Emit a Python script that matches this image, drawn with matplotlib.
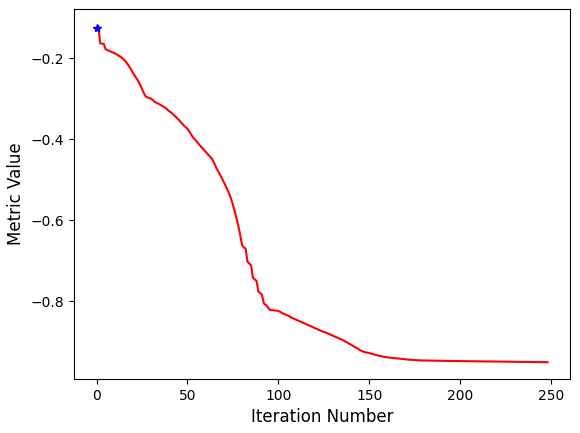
import numpy as np
import matplotlib
matplotlib.use("Agg")
import matplotlib.pyplot as plt

# metric value at each iteration
metric_values = [
    -0.126, -0.120, -0.163, -0.164, -0.165, -0.178, -0.180, -0.182, -0.184, -0.186,
    -0.188, -0.190, -0.193, -0.196, -0.199, -0.203, -0.208, -0.214, -0.221, -0.228,
    -0.236, -0.243, -0.250, -0.257, -0.266, -0.276, -0.286, -0.294, -0.297, -0.298,
    -0.300, -0.303, -0.308, -0.310, -0.312, -0.315, -0.317, -0.320, -0.323, -0.327,
    -0.331, -0.334, -0.338, -0.342, -0.347, -0.351, -0.356, -0.361, -0.366, -0.370,
    -0.374, -0.381, -0.388, -0.395, -0.400, -0.405, -0.411, -0.416, -0.421, -0.426,
    -0.431, -0.436, -0.441, -0.446, -0.452, -0.462, -0.472, -0.480, -0.488, -0.497,
    -0.506, -0.515, -0.525, -0.535, -0.547, -0.562, -0.578, -0.596, -0.614, -0.636,
    -0.661, -0.667, -0.670, -0.702, -0.707, -0.711, -0.742, -0.746, -0.750, -0.776,
    -0.780, -0.784, -0.805, -0.809, -0.813, -0.820, -0.822, -0.822, -0.823, -0.823,
    -0.824, -0.826, -0.829, -0.831, -0.833, -0.835, -0.837, -0.840, -0.842, -0.844,
    -0.846, -0.848, -0.850, -0.852, -0.854, -0.856, -0.858, -0.860, -0.862, -0.864,
    -0.866, -0.868, -0.870, -0.872, -0.874, -0.876, -0.877, -0.879, -0.881, -0.883,
    -0.885, -0.887, -0.889, -0.891, -0.893, -0.895, -0.897, -0.900, -0.902, -0.905,
    -0.907, -0.910, -0.913, -0.915, -0.918, -0.921, -0.923, -0.925, -0.926, -0.927,
    -0.928, -0.929, -0.930, -0.932, -0.933, -0.934, -0.935, -0.936, -0.937, -0.938,
    -0.9385, -0.939, -0.9395, -0.940, -0.9405, -0.941, -0.9415, -0.942, -0.9425, -0.943,
    -0.9435, -0.944, -0.9443, -0.9446, -0.9449, -0.9452, -0.9455, -0.9458, -0.9460, -0.9461,
    -0.9462, -0.9463, -0.9464, -0.9465, -0.9466, -0.9467, -0.9468, -0.9468, -0.9469, -0.9470,
    -0.9470, -0.9471, -0.9472, -0.9472, -0.9473, -0.9474, -0.9474, -0.9475, -0.9476, -0.9476,
    -0.9477, -0.9477, -0.9478, -0.9479, -0.9479, -0.9480, -0.9480, -0.9481, -0.9482, -0.9482,
    -0.9483, -0.9483, -0.9484, -0.9485, -0.9485, -0.9486, -0.9486, -0.9487, -0.9488, -0.9488,
    -0.9489, -0.9489, -0.9490, -0.9490, -0.9491, -0.9492, -0.9492, -0.9493, -0.9493, -0.9494,
    -0.9494, -0.9495, -0.9496, -0.9496, -0.9497, -0.9497, -0.9498, -0.9498, -0.9499, -0.9500,
    -0.9500, -0.9501, -0.9501, -0.9502, -0.9502, -0.9503, -0.9503, -0.9504, -0.9504,
]

# iterations where the resolution level changed
multires_iterations = [0]

fig = plt.figure(figsize=(5.8, 4.33), dpi=100)
ax = fig.add_axes([74 / 580, 54 / 433, 496 / 580, 370 / 433])

ax.plot(metric_values, 'r')
ax.plot(multires_iterations, [metric_values[i] for i in multires_iterations], 'b*')
ax.set_xlabel('Iteration Number', fontsize=12)
ax.set_ylabel('Metric Value', fontsize=12)

fig.savefig("out.png", dpi=100)
